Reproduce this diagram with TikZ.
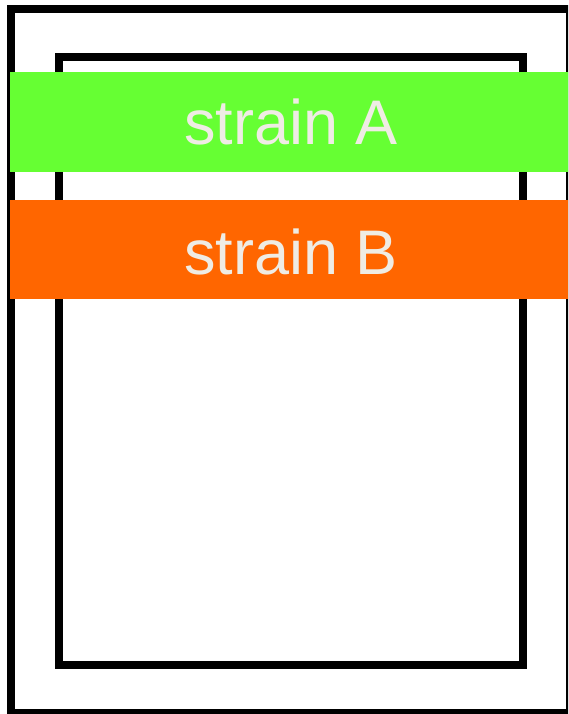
\documentclass[tikz,border=0pt]{standalone}
\usepackage{fontspec}
\setmainfont{Liberation Sans}
\definecolor{bandgreen}{HTML}{66FF33}
\definecolor{bandorange}{HTML}{FF6600}
\definecolor{labelcol}{HTML}{EFECE4}
\begin{document}
\begin{tikzpicture}[x=1pt,y=-1pt,
  frame/.style={draw=black,line width=8pt,fill=none},
  band/.style={inner sep=0pt,outer sep=0pt},
  label/.style={text=labelcol,font=\fontsize{63}{63}\selectfont,inner sep=0pt,anchor=base}]
\useasboundingbox (0,0) rectangle (568,714);
\clip (0,0) rectangle (568,714);
\fill[white] (0,0) rectangle (568,714);
\draw[frame] (11,9) rectangle (570,713);
\draw[frame] (59,57) rectangle (523,665);
\fill[bandgreen] (10,72) rectangle (570,172);
\fill[bandorange] (10,200) rectangle (570,299);
\node[label] (a) at (291,145) {strain A};
\node[label] (b) at (291,274) {strain B};
\end{tikzpicture}
\end{document}
